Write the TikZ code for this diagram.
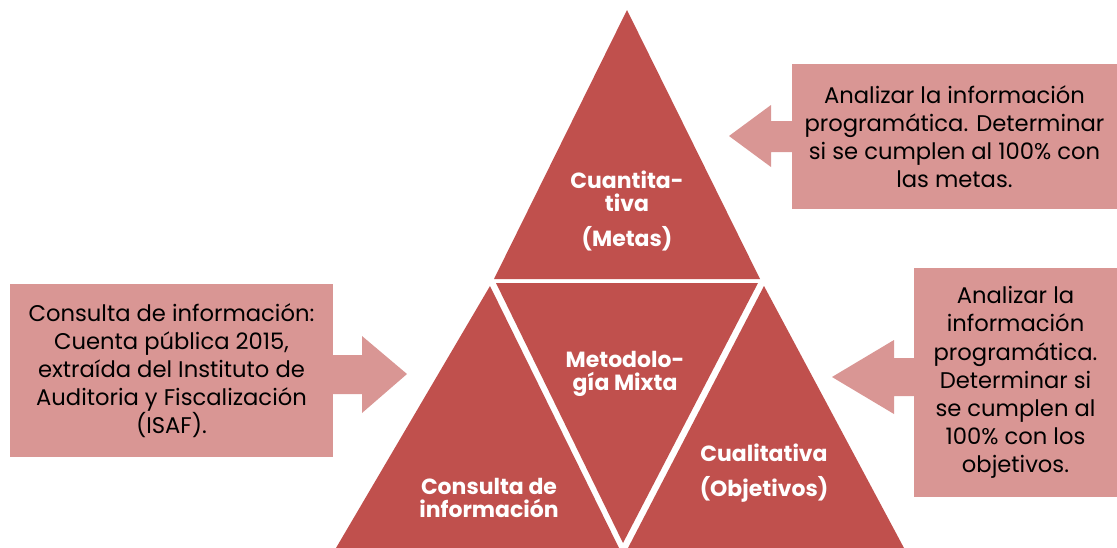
\documentclass[tikz,border=0pt]{standalone}
\usepackage{fontspec}
\setmainfont{Poppins}
\definecolor{trired}{HTML}{C0504D}
\definecolor{boxpink}{HTML}{D99694}
\begin{document}
\begin{tikzpicture}[x=0.02cm,y=-0.02cm,
    tri/.style={fill=trired},
    infobox/.style={fill=boxpink,inner sep=0pt,align=center,font=\fontsize{12.9}{16}\selectfont},
    trilabel/.style={text=white,align=center,font=\fontsize{12.5}{13.5}\selectfont\bfseries},
    blockarrow/.style={fill=boxpink}]
        \useasboundingbox (0,0) rectangle (1117,548);
        % triangles
        \fill[tri] (627,10)--(494,279)--(760,279)--cycle;
        \fill[tri] (496,283)--(758,283)--(623,543)--cycle;
        \fill[tri] (490,286)--(336,548)--(619,548)--cycle;
        \fill[tri] (764,286)--(628,548)--(904,548)--cycle;
        
        \node[trilabel] (cuanti) at (627,211) {Cuantita-\\tiva\\[6.5pt](Metas)};
        \node[trilabel] (mixta) at (625,374) {Metodolo-\\gía Mixta};
        \node[trilabel] (consul) at (489,498) {Consulta de\\información};
        \node[trilabel] (cuali) at (764,473) {Cualitativa\\[6.5pt](Objetivos)};
        
        % boxes
        \node[infobox,minimum width=6.46cm,minimum height=3.46cm] (fuente) at (171.5,370.5)
            {Consulta de información:\\Cuenta pública 2015,\\extraída del Instituto de\\Auditoria y Fiscalización\\(ISAF).};
        \node[infobox,minimum width=6.5cm,minimum height=2.9cm] (metas) at (954.5,136.5)
            {Analizar la información\\programática. Determinar\\si se cumplen al 100\% con\\las metas.};
        \node[infobox,minimum width=4.06cm,minimum height=4.58cm] (objet) at (1015.5,382.5)
            {Analizar la\\información\\programática.\\Determinar si\\se cumplen al\\100\% con los\\objetivos.};
        
        % block arrows
        \fill[blockarrow] (333,355)--(362,355)--(362,336)--(407,374)--(362,413)--(362,394)--(333,394)--cycle;
        \fill[blockarrow] (792,121)--(771,121)--(771,105)--(729,136)--(771,167)--(771,152)--(792,152)--cycle;
        \fill[blockarrow] (914,358)--(894,358)--(894,340)--(832,377)--(894,414)--(894,396)--(914,396)--cycle;
\end{tikzpicture}
\end{document}
